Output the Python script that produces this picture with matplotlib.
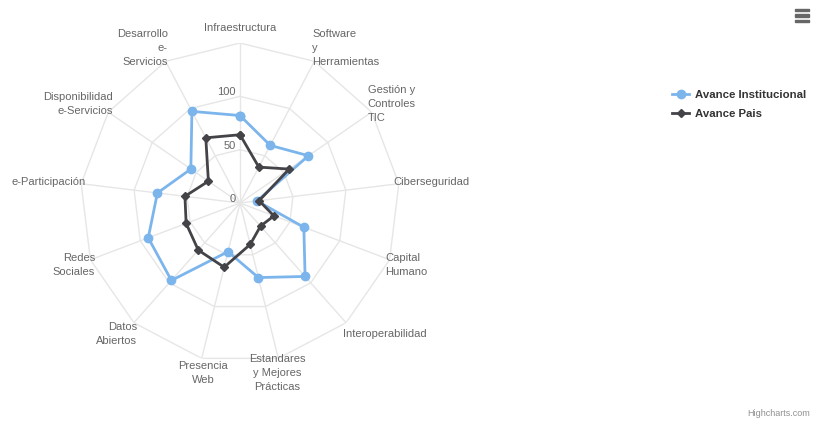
import numpy as np
import matplotlib.pyplot as plt
from matplotlib.transforms import offset_copy
from matplotlib.patches import Rectangle
from matplotlib.lines import Line2D

categories = ["Infraestructura", "Software\ny\nHerramientas", "Gestión y\nControles\nTIC",
              "Ciberseguridad", "Capital\nHumano", "Interoperabilidad",
              "Estandares\ny Mejores\nPrácticas", "Presencia\nWeb", "Datos\nAbiertos",
              "Redes\nSociales", "e-Participación", "Disponibilidad\ne-Servicios",
              "Desarrollo\ne-\nServicios"]
avance_institucional = [82, 61, 78, 16, 64, 92, 72, 47, 97, 92, 78, 56, 97]
avance_pais = [64, 38, 56, 18, 34, 29, 40, 62, 59, 54, 52, 36, 69]
ring_values = [50, 100, 150]
tick_labels = ["0", "50", "100"]

BLUE = "#7cb5ec"
DARK = "#434348"
GRID = "#e6e6e6"
TXT = "#666666"
plt.rcParams['font.family'] = ['Liberation Sans', 'DejaVu Sans']

fig = plt.figure(figsize=(8.13, 4.23), dpi=100)
fig.patch.set_facecolor('white')
ax = fig.add_axes([80 / 813, 60 / 423, 320 / 813, 320 / 423], projection='polar')
ax.set_theta_zero_location('N')
ax.set_theta_direction(-1)
ax.set_ylim(0, 150)
ax.axis('off')

n = len(categories)
theta = np.arange(n) * 2 * np.pi / n
closed = np.append(theta, theta[0])

# polygon grid + spokes
for rv in ring_values:
    ax.plot(closed, [rv] * (n + 1), color=GRID, lw=1, zorder=1)
for t in theta:
    ax.plot([t, t], [0, ring_values[-1]], color=GRID, lw=1, zorder=1)

# series
ax.plot(closed, avance_institucional + avance_institucional[:1], color=BLUE, lw=2,
        marker='o', markersize=6, zorder=3)
ax.plot(closed, avance_pais + avance_pais[:1], color=DARK, lw=2,
        marker='D', markersize=4.5, zorder=4)

# y axis labels
for rv, lab in zip([0] + ring_values[:2], tick_labels):
    tr = offset_copy(ax.transData, fig, x=-4, y=rv * 160 / 150 + 4, units='dots')
    ax.text(0, 0, lab, transform=tr, ha='right', va='center', fontsize=8, color=TXT)

# category labels
for t, lab in zip(theta, categories):
    s, c = np.sin(t), np.cos(t)
    if abs(s) < 0.3:
        ha = 'center'
    elif s > 0:
        ha = 'left'
    else:
        ha = 'right'
    tr = offset_copy(ax.transData, fig, x=155 * s, y=175 * c, units='dots')
    ax.text(0, 0, lab, transform=tr, ha=ha, va='center', multialignment=ha,
            fontsize=8, color=TXT, linespacing=1.5)

# legend
handles = [Line2D([], [], color=BLUE, lw=2, marker='o', markersize=6),
           Line2D([], [], color=DARK, lw=2, marker='D', markersize=4.5)]
leg = fig.legend(handles, ["Avance Institucional", "Avance Pais"],
                 loc='upper left', bbox_to_anchor=(662 / 813, 1 - 80 / 423),
                 frameon=False, handlelength=1.5, handletextpad=0.5,
                 labelspacing=0.75, prop={'size': 8.2, 'weight': 'bold'})
for txt in leg.get_texts():
    txt.set_color('#333333')

# menu icon
for yy in [9, 14.5, 20]:
    fig.patches.append(Rectangle((795 / 813, 1 - (yy + 2.5) / 423), 14 / 813, 2.5 / 423,
                                 transform=fig.transFigure, color='#666666'))

fig.text(810 / 813, 1 - 413 / 423, "Highcharts.com", ha='right', va='center',
         fontsize=6.5, color='#909090')

fig.savefig('out.png', dpi=100, facecolor='white')
